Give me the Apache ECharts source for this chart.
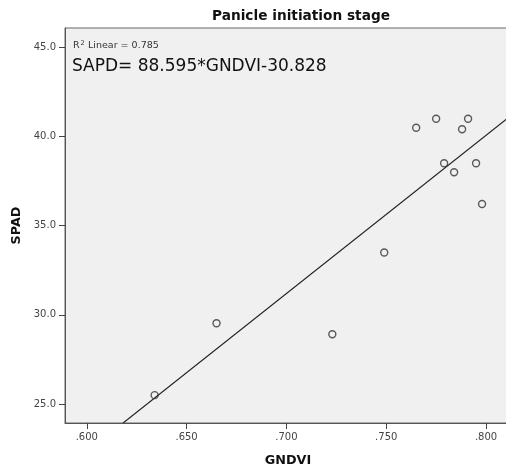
<!DOCTYPE html>
<html>
<head>
<meta charset="utf-8">
<script src="https://cdn.jsdelivr.net/npm/echarts@6/dist/echarts.min.js"></script>
<style>
html,body{margin:0;padding:0;background:#fff;}
#chart{width:506px;height:474px;}
</style>
</head>
<body>
<div id="chart"></div>
<script>
// Data
const gndvi = [0.765, 0.775, 0.791, 0.788, 0.779, 0.784, 0.795, 0.798, 0.749, 0.665, 0.723, 0.634];
const spad  = [40.47, 40.98, 40.98, 40.39, 38.49, 37.98, 38.49, 36.20, 33.49, 29.53, 28.91, 25.50];
// Fit line endpoints (SAPD = 88.595*GNDVI - 30.828), read at plot edges
const fitX = [0.6182, 0.8125];
const fitY = [23.94, 41.16];
const xTicks = [0.600, 0.650, 0.700, 0.750, 0.800];
const yTicks = [25, 30, 35, 40, 45];
const titleText = 'Panicle initiation stage';
const r2Text = 'Linear = 0.785';
const eqText = 'SAPD= 88.595*GNDVI-30.828';

const FONT = 'DejaVu Sans';
const chart = echarts.init(document.getElementById('chart'), null, {renderer: 'canvas'});
const pts = gndvi.map((v, i) => [v, spad[i]]);
const fit = fitX.map((v, i) => [v, fitY[i]]);

chart.setOption({
  animation: false,
  backgroundColor: '#ffffff',
  grid: {
    left: 65, top: 28, width: 446, height: 395,
    outerBoundsMode: 'none', containLabel: false,
    show: true, backgroundColor: '#f0f0f0', borderColor: '#666', borderWidth: 1
  },
  xAxis: {
    type: 'value', min: 0.5891, max: 0.8125,
    name: 'GNDVI', nameLocation: 'middle', nameGap: 31,
    nameTextStyle: {fontFamily: FONT, fontWeight: 'bold', fontSize: 12.8, color: '#111'},
    axisLine: {show: true, lineStyle: {color: '#555', width: 1}},
    axisTick: {show: true, length: 6, customValues: xTicks, lineStyle: {color: '#444'}},
    axisLabel: {
      customValues: xTicks, margin: 9,
      fontFamily: FONT, fontSize: 10, color: '#444',
      formatter: v => v.toFixed(3).replace(/^0/, '')
    },
    splitLine: {show: false}
  },
  yAxis: {
    type: 'value', min: 23.94, max: 46.06,
    name: 'SPAD', nameLocation: 'middle', nameGap: 36, nameRotate: 90,
    nameTextStyle: {fontFamily: FONT, fontWeight: 'bold', fontSize: 12.8, color: '#111'},
    axisLine: {show: true, lineStyle: {color: '#555', width: 1}},
    axisTick: {show: true, length: 6, customValues: yTicks, lineStyle: {color: '#444'}},
    axisLabel: {
      customValues: yTicks, margin: 9,
      fontFamily: FONT, fontSize: 10, color: '#444',
      formatter: v => v.toFixed(1)
    },
    splitLine: {show: false}
  },
  graphic: [
    {type: 'text', x: 301, y: 16, style: {text: titleText,
      font: 'bold 13.7px "DejaVu Sans"', fill: '#111', align: 'center', verticalAlign: 'middle'}},
    {type: 'text', x: 73, y: 46, style: {
      text: '{r|R}{s|2} {r|' + r2Text + '}',
      rich: {
        r: {fontFamily: FONT, fontSize: 9.5, fill: '#333', color: '#333'},
        s: {fontFamily: FONT, fontSize: 6.5, fill: '#333', color: '#333', verticalAlign: 'top', padding: [0,0,4,1]}
      },
      verticalAlign: 'middle'}},
    {type: 'text', x: 72, y: 67, style: {text: eqText,
      font: '17px "DejaVu Sans"', fill: '#111', verticalAlign: 'middle'}}
  ],
  series: [
    {
      type: 'line', data: fit, symbol: 'none', clip: true,
      lineStyle: {color: '#222', width: 1.1}, silent: true, z: 2
    },
    {
      type: 'scatter', data: pts, symbol: 'circle', symbolSize: 7,
      itemStyle: {color: 'rgba(0,0,0,0)', borderColor: '#333', borderWidth: 1.4}, z: 3
    }
  ]
});
</script>
</body>
</html>
